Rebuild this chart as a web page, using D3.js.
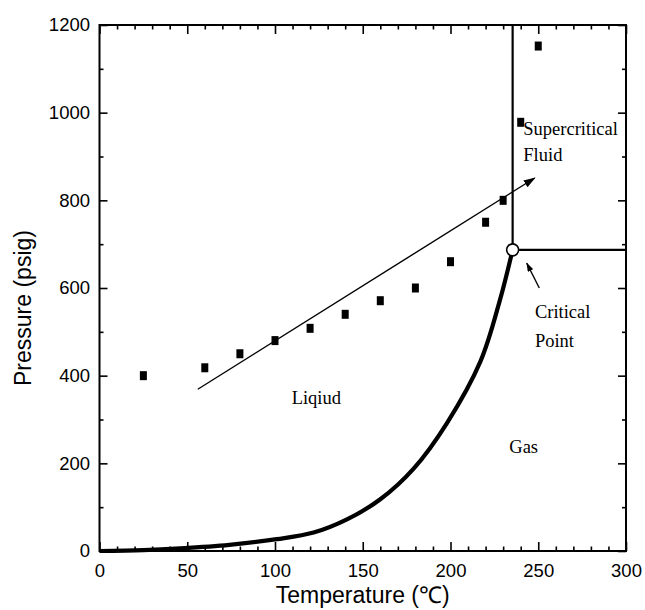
<!DOCTYPE html>
<html>
<head>
<meta charset="utf-8">
<script src="https://cdn.jsdelivr.net/npm/d3@7"></script>
<style>
  body { margin: 0; background: #fff; }
  svg { display: block; }
</style>
</head>
<body>
<div id="chart"></div>
<script>
// Measured points (squares)
const pointTemp = [25, 60, 80, 100, 120, 140, 160, 180, 200, 220, 230, 240, 250];
const pointPress = [400, 418, 450, 480, 508, 540, 571, 600, 660, 750, 800, 978, 1152];

// Vapour pressure curve up to the critical point
const curveTemp = [0, 25, 46, 74, 101, 122, 141, 160, 179, 198, 217, 228, 235.4];
const curvePress = [0, 2, 6, 14, 27, 42, 72, 118, 188, 292, 432, 570, 687];

// Critical point
const critTemp = 235.4;
const critPress = 687;

// Trend arrow through the points
const trendTemp = [56, 248];
const trendPress = [369, 851];

// Tick values
const xTicks = [0, 50, 100, 150, 200, 250, 300];
const yTicks = [0, 200, 400, 600, 800, 1000, 1200];

const width = 645, height = 610;
const margin = {top: 25, right: 19, bottom: 59, left: 99.5};
const innerW = width - margin.left - margin.right;
const innerH = height - margin.top - margin.bottom;

const svg = d3.select("#chart")
    .append("svg")
    .attr("width", width)
    .attr("height", height);

const defs = svg.append("defs");
defs.append("marker")
    .attr("id", "head")
    .attr("markerUnits", "userSpaceOnUse")
    .attr("viewBox", "0 0 12 8")
    .attr("refX", 11)
    .attr("refY", 4)
    .attr("markerWidth", 12)
    .attr("markerHeight", 8)
    .attr("orient", "auto")
    .append("path")
    .attr("d", "M0,0 L12,4 L0,8 Z")
    .attr("fill", "#000");
defs.append("marker")
    .attr("id", "headSmall")
    .attr("markerUnits", "userSpaceOnUse")
    .attr("viewBox", "0 0 9 6")
    .attr("refX", 8.5)
    .attr("refY", 3)
    .attr("markerWidth", 9)
    .attr("markerHeight", 6)
    .attr("orient", "auto")
    .append("path")
    .attr("d", "M0,0 L9,3 L0,6 Z")
    .attr("fill", "#000");

const g = svg.append("g")
    .attr("transform", `translate(${margin.left},${margin.top})`);

const x = d3.scaleLinear().domain([0, 300]).range([0, innerW]);
const y = d3.scaleLinear().domain([0, 1200]).range([innerH, 0]);

const minorX = d3.range(0, 301, 10).filter(d => d % 50 !== 0);
const minorY = d3.range(0, 1201, 100).filter(d => d % 200 !== 0);

const tickFont = "'Liberation Sans', Arial, sans-serif";
const fmt = d3.format("d");

function styleAxis(sel) {
    sel.select(".domain").remove();
    sel.selectAll("line").attr("stroke", "#000").attr("stroke-width", 1.6);
    sel.selectAll("text")
        .attr("fill", "#000")
        .style("font-family", tickFont)
        .style("font-size", "18.5px");
}

// Bottom axis
g.append("g")
    .attr("transform", `translate(0,${innerH})`)
    .call(d3.axisBottom(x).tickValues(xTicks).tickFormat(fmt).tickSize(-9).tickPadding(13))
    .call(styleAxis);
g.append("g")
    .attr("transform", `translate(0,${innerH})`)
    .call(d3.axisBottom(x).tickValues(minorX).tickSize(-4.5).tickFormat(""))
    .call(styleAxis);

// Top axis
g.append("g")
    .call(d3.axisTop(x).tickValues(xTicks).tickSize(-9).tickFormat(""))
    .call(styleAxis);
g.append("g")
    .call(d3.axisTop(x).tickValues(minorX).tickSize(-4.5).tickFormat(""))
    .call(styleAxis);

// Left axis
g.append("g")
    .call(d3.axisLeft(y).tickValues(yTicks).tickFormat(fmt).tickSize(-8).tickPadding(9.5))
    .call(styleAxis);
g.append("g")
    .call(d3.axisLeft(y).tickValues(minorY).tickSize(-4).tickFormat(""))
    .call(styleAxis);

// Right axis
g.append("g")
    .attr("transform", `translate(${innerW},0)`)
    .call(d3.axisRight(y).tickValues(yTicks).tickSize(-8).tickFormat(""))
    .call(styleAxis);
g.append("g")
    .attr("transform", `translate(${innerW},0)`)
    .call(d3.axisRight(y).tickValues(minorY).tickSize(-4).tickFormat(""))
    .call(styleAxis);

// Frame
g.append("rect")
    .attr("width", innerW)
    .attr("height", innerH)
    .attr("fill", "none")
    .attr("stroke", "#000")
    .attr("stroke-width", 2);

// Axis titles
svg.append("text")
    .attr("x", margin.left + innerW / 2)
    .attr("y", 603)
    .attr("text-anchor", "middle")
    .style("font-family", tickFont)
    .style("font-size", "23px")
    .text("Temperature (℃)");

svg.append("text")
    .attr("transform", `translate(30.5,${margin.top + innerH / 2 + 20}) rotate(-90)`)
    .attr("text-anchor", "middle")
    .style("font-family", tickFont)
    .style("font-size", "23px")
    .text("Pressure (psig)");

// Phase boundaries from the critical point
g.append("line")
    .attr("x1", x(critTemp)).attr("y1", y(critPress))
    .attr("x2", x(critTemp)).attr("y2", y(1200))
    .attr("stroke", "#000").attr("stroke-width", 2.2);
g.append("line")
    .attr("x1", x(critTemp)).attr("y1", y(critPress))
    .attr("x2", x(300)).attr("y2", y(critPress))
    .attr("stroke", "#000").attr("stroke-width", 2.4);

// Vapour pressure curve
const curve = curveTemp.map((t, i) => ({t: t, p: curvePress[i]}));
g.append("path")
    .datum(curve)
    .attr("fill", "none")
    .attr("stroke", "#000")
    .attr("stroke-width", 4.2)
    .attr("d", d3.line()
        .x(d => x(d.t))
        .y(d => y(d.p))
        .curve(d3.curveCatmullRom.alpha(0.5)));

// Trend arrow
g.append("line")
    .attr("x1", x(trendTemp[0])).attr("y1", y(trendPress[0]))
    .attr("x2", x(trendTemp[1])).attr("y2", y(trendPress[1]))
    .attr("stroke", "#000")
    .attr("stroke-width", 1.4)
    .attr("marker-end", "url(#head)");

// Measured points
const points = pointTemp.map((t, i) => ({t: t, p: pointPress[i]}));
g.selectAll(".pt")
    .data(points)
    .join("rect")
    .attr("class", "pt")
    .attr("x", d => x(d.t) - 3.5)
    .attr("y", d => y(d.p) - 4.5)
    .attr("width", 7)
    .attr("height", 9)
    .attr("fill", "#000");

// Critical point marker
g.append("circle")
    .attr("cx", x(critTemp))
    .attr("cy", y(critPress))
    .attr("r", 6)
    .attr("fill", "#fff")
    .attr("stroke", "#000")
    .attr("stroke-width", 1.6);

// Arrow to critical point
g.append("line")
    .attr("x1", x(250.6)).attr("y1", y(600))
    .attr("x2", x(243.4)).attr("y2", y(657))
    .attr("stroke", "#000")
    .attr("stroke-width", 1.4)
    .attr("marker-end", "url(#headSmall)");

// Region labels
const serif = "'Liberation Serif', 'Times New Roman', serif";
const labels = [
    {text: "Liqiud", t: 109.5, p: 336},
    {text: "Gas", t: 233.5, p: 224},
    {text: "Supercritical", t: 241.5, p: 950},
    {text: "Fluid", t: 241.5, p: 889},
    {text: "Critical", t: 248.1, p: 532},
    {text: "Point", t: 248.1, p: 466}
];
g.selectAll(".lbl")
    .data(labels)
    .join("text")
    .attr("class", "lbl")
    .attr("x", d => x(d.t))
    .attr("y", d => y(d.p))
    .style("font-family", serif)
    .style("font-size", "18.5px")
    .text(d => d.text);
</script>
</body>
</html>
